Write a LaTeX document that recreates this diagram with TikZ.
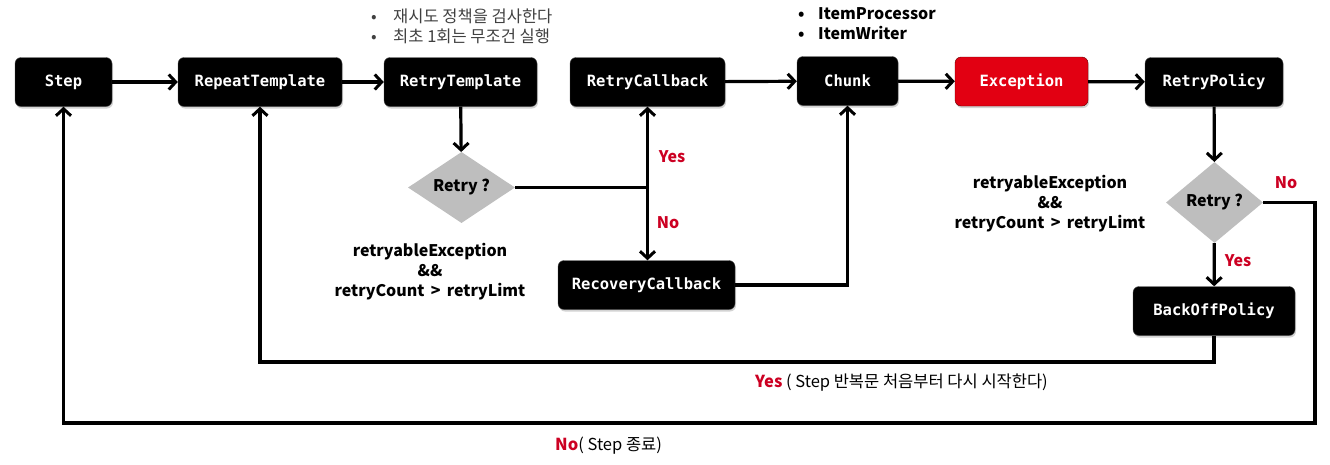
\documentclass[tikz,border=0pt]{standalone}
\usepackage{fontspec}
\setmainfont{Noto Sans CJK KR}
\setmonofont{DejaVu Sans Mono}
\usetikzlibrary{arrows.meta,shapes.geometric,shadows}
\definecolor{redlbl}{RGB}{204,0,34}
\definecolor{excred}{RGB}{226,0,18}
\definecolor{dgray}{RGB}{190,190,190}
\begin{document}
\begin{tikzpicture}[x=1pt,y=-1pt,
  box/.style={draw=black!70,fill=black,rounded corners=6pt,text=white,
    font=\ttfamily\bfseries\fontsize{15.5}{17}\selectfont,inner sep=0pt,
    minimum height=49pt,
    drop shadow={opacity=0.35,shadow xshift=1pt,shadow yshift=-2pt}},
  redbox/.style={box,fill=excred,draw=black!60!red},
  dia/.style={diamond,aspect=1.5,fill=dgray,inner sep=0pt,
    font=\bfseries\fontsize{16}{18}\selectfont},
  arr/.style={line width=3.2pt,-{Straight Barb[length=7pt,width=15pt,line width=3pt]}},
  ln/.style={line width=3.2pt},
  lbl/.style={text=redlbl,font=\bfseries\fontsize{16}{18}\selectfont,inner sep=0pt},
  cond/.style={align=center,font=\bfseries\fontsize{16}{20}\selectfont,inner sep=0pt},
  note/.style={align=left,anchor=north west,inner sep=0pt}
]
\useasboundingbox (0,0) rectangle (1330,464);

\node[box,minimum width=97pt] (step) at (63.5,82) {Step};
\node[box,minimum width=164pt] (rep) at (260,82) {RepeatTemplate};
\node[box,minimum width=153pt] (rtt) at (460.5,82) {RetryTemplate};
\node[box,minimum width=155pt] (rcb) at (647.5,82) {RetryCallback};
\node[box,minimum width=101pt] (chunk) at (847.5,81) {Chunk};
\node[redbox,minimum width=133pt] (exc) at (1021.5,81.5) {Exception};
\node[box,minimum width=138pt] (rpol) at (1214,82) {RetryPolicy};
\node[dia,minimum width=107pt,minimum height=71pt] (d1) at (461.5,187.5) {Retry ?};
\node[box,minimum width=177pt,minimum height=49pt] (rec) at (646.5,285) {RecoveryCallback};
\node[dia,minimum width=97pt,minimum height=81pt] (d2) at (1214.5,202.5) {Retry ?};
\node[box,minimum width=162pt] (boff) at (1214,311) {BackOffPolicy};

% notes
\node[note,text=black!75,font=\fontsize{16.5}{20}\selectfont] (n1) at (371,9)
  {\makebox[22pt][l]{•}재시도 정책을 검사한다\\\makebox[22pt][l]{•}최초 1회는 무조건 실행};
\node[note,font=\bfseries\fontsize{16}{20}\selectfont] (n2) at (798,7)
  {\makebox[20pt][l]{•}ItemProcessor\\\makebox[20pt][l]{•}ItemWriter};
\node[cond] (c1) at (430,272) {retryableException\\\&\&\\retryCount \,>\, retryLimt};
\node[cond] (c2) at (1050,204) {retryableException\\\&\&\\retryCount \,>\, retryLimt};

% connectors
\draw[arr] (step) -- (rep);
\draw[arr] (rep) -- (rtt);
\draw[arr] (rtt) -- (d1);
\coordinate (j1) at (rcb.south |- d1.east);
\draw[ln] (d1.east) -- (j1);
\draw[arr] (j1) -- (rcb.south);
\draw[arr] (j1) -- (j1 |- rec.north);
\draw[arr] (rec.east) -| (chunk.south);
\draw[arr] (rcb) -- (chunk);
\draw[arr] (chunk) -- (exc);
\draw[arr] (exc) -- (rpol);
\draw[arr] (rpol) -- (d2);
\draw[arr] (d2) -- (boff);
\coordinate (yb) at (0,362);
\draw[arr] (boff.south) -- (boff.south |- yb) -| (rep.south);
\coordinate (rc) at (1315,423);
\draw[arr] (d2.east) -| (rc) -| (step.south);

% labels
\node[lbl] (y1) at (672,157) {Yes};
\node[lbl] (no1) at (668,223) {No};
\node[lbl] (y2) at (1238,261) {Yes};
\node[lbl] (no2) at (1286,183) {No};
\node[anchor=west,inner sep=0pt,font=\fontsize{16.5}{18}\selectfont] (t1) at (755,383)
  {\textcolor{redlbl}{\bfseries Yes} ( Step 반복문 처음부터 다시 시작한다)};
\node[anchor=west,inner sep=0pt,font=\fontsize{16.5}{18}\selectfont] (t2) at (555,446)
  {\textcolor{redlbl}{\bfseries No}( Step 종료)};
\end{tikzpicture}
\end{document}
